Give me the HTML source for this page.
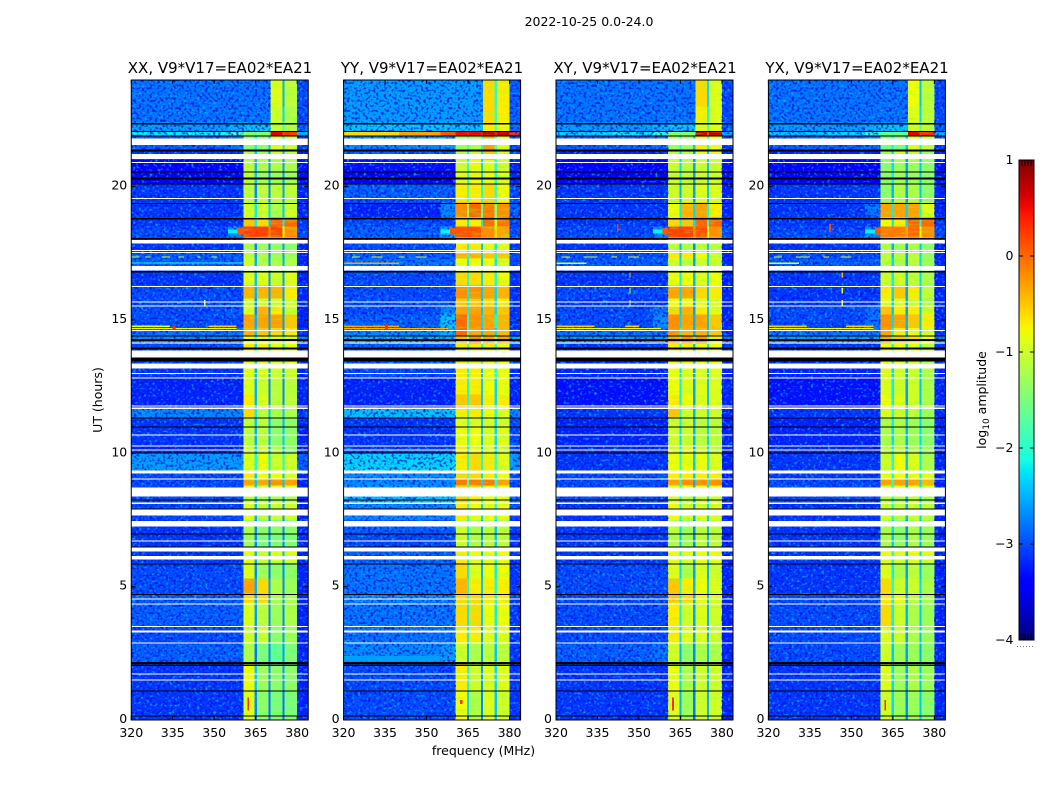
<!DOCTYPE html>
<html lang="en">
<head>
<meta charset="utf-8">
<title>2022-10-25 0.0-24.0</title>
<style>
html,body{margin:0;padding:0;background:#fff}
svg{display:block}
text{font-family:"DejaVu Sans","Liberation Sans",sans-serif;fill:#000}
</style>
</head>
<body>
<svg id="figure" xmlns="http://www.w3.org/2000/svg" width="1050" height="800" viewBox="0 0 1050 800">
  <defs>
    <filter id="grain-light" x="0" y="0" width="100%" height="100%" color-interpolation-filters="sRGB">
      <feTurbulence type="fractalNoise" baseFrequency="0.36 0.42" numOctaves="1" seed="7"/>
      <feColorMatrix type="matrix" values="0 0 0 0 0  0 0 0 0 0.7  0 0 0 0 1  6 0 0 0 -3.3"/>
    </filter>
    <filter id="grain-dark" x="0" y="0" width="100%" height="100%" color-interpolation-filters="sRGB">
      <feTurbulence type="fractalNoise" baseFrequency="0.38 0.4" numOctaves="1" seed="21"/>
      <feColorMatrix type="matrix" values="0 0 0 0 0  0 0 0 0 0.04  0 0 0 0 0.9  6 0 0 0 -3"/>
    </filter>
    <filter id="grain-band" x="0" y="0" width="100%" height="100%" color-interpolation-filters="sRGB">
      <feTurbulence type="fractalNoise" baseFrequency="0.06 0.45" numOctaves="2" seed="12"/>
      <feColorMatrix type="matrix" values="0 0 0 0 0.55  0 0 0 0 1  0 0 0 0 0.2  5 0 0 0 -2.6"/>
    </filter>
    <linearGradient id="jet-gradient" x1="0" y1="1" x2="0" y2="0"></linearGradient>
  </defs>
  <text x="589" y="26" font-size="12.5" text-anchor="middle">2022-10-25 0.0-24.0</text>
  <g id="panel-xx"></g>
  <g id="panel-yy"></g>
  <g id="panel-xy"></g>
  <g id="panel-yx"></g>
  <text x="220" y="73" font-size="15" text-anchor="middle">XX, V9*V17=EA02*EA21</text>
  <text x="432" y="73" font-size="15" text-anchor="middle">YY, V9*V17=EA02*EA21</text>
  <text x="645" y="73" font-size="15" text-anchor="middle">XY, V9*V17=EA02*EA21</text>
  <text x="857" y="73" font-size="15" text-anchor="middle">YX, V9*V17=EA02*EA21</text>
  <text transform="translate(102 400) rotate(-90)" font-size="12.5" text-anchor="middle">UT (hours)</text>
  <text x="483.5" y="755" font-size="12.5" text-anchor="middle">frequency (MHz)</text>
  <g id="colorbar"></g>
  <text transform="translate(986 400) rotate(-90)" font-size="12.5" text-anchor="middle">log<tspan dy="3" font-size="9">10</tspan><tspan dy="-3"> amplitude</tspan></text>
</svg>
<script>
/* Chart data. Levels are log10 amplitude in tenths (-30 means -3.0). */
const rowEdges=[0,1.1,2.1,2.9,3.5,4.4,4.75,5.3,5.9,6.3,7,7.5,8.1,8.4,8.8,9.05,9.35,10,10.3,11,11.35,11.7,12.2,12.8,13.4,14.1,14.4,14.7,15.2,15.5,15.8,16.3,16.8,17.3,17.5,17.9,18.1,18.5,18.85,19.4,20.1,20.6,21,21.4,21.88,22.07,22.4,23,24];
const freqEdges=[320,340,355,360.5,364.6,365.4,369.6,370.4,374.6,375.4,380,384];
const xTickValues=[320,335,350,365,380];
const yTickValues=[0,5,10,15,20];
const colorbarTicks=[1,0,-1,-2,-3,-4];
const colorbarTickLabels=["1","0","\u22121","\u22122","\u22123","\u22124"];
const whiteBands=[[1.48,1.52],[1.71,1.75],[2.87,2.9],[3.28,3.36],[3.51,3.53],[4.35,4.37],[4.52,4.55],[6.02,6.15],[6.31,6.46],[6.7,6.74],[7.26,7.46],[7.67,7.9],[8.1,8.16],[8.39,8.72],[9.03,9.06],[9.25,9.36],[10.1,10.14],[10.26,10.29],[10.67,10.7],[11.66,11.71],[11.76,11.8],[12.81,12.85],[12.97,13.01],[13.19,13.37],[13.6,13.85],[14.12,14.15],[14.59,14.62],[15.5,15.54],[15.66,15.69],[16.23,16.27],[16.86,17.03],[17.52,17.55],[17.61,17.63],[17.86,18],[19.53,19.57],[20.89,20.93],[21.03,21.22],[21.56,21.81]];
const blackBands=[[0.14,0.17],[1.07,1.1],[2.04,2.07],[2.09,2.18],[4.71,4.73],[5.85,5.87],[6.47,6.51],[6.97,7],[7.91,7.94],[8.24,8.27],[9.99,10.04],[10.98,11.01],[11.31,11.34],[13.45,13.59],[13.9,13.97],[14.21,14.28],[14.38,14.42],[16.78,16.83],[18.02,18.08],[18.77,18.82],[19.35,19.39],[20.08,20.12],[20.27,20.35],[20.53,20.57],[21.32,21.4],[21.88,21.92],[22.05,22.09],[22.34,22.38]];

const xxLevels=[
[-31,-31,-31,-9,-27,-14,-28,-15,-28,-15,-32],
[-31,-31,-31,-8,-24,-13,-27,-14,-26,-14,-32],
[-29,-29,-29,-12,-28,-15,-27,-17,-26,-15,-32],
[-30,-30,-30,-10,-27,-10,-27,-14,-26,-13,-32],
[-29,-29,-29,-9,-26,-11,-27,-13,-27,-12,-32],
[-29,-29,-29,-6,-25,-6,-26,-12,-26,-12,-32],
[-30,-30,-30,-3,-25,-6,-26,-12,-27,-13,-32],
[-30,-30,-30,-9,-27,-13,-28,-14,-27,-14,-32],
[-31,-31,-31,-8,-25,-10,-26,-9,-25,-9,-32],
[-31,-31,-31,-13,-27,-15,-27,-15,-27,-15,-32],
[-31,-31,-31,-12,-27,-14,-27,-14,-27,-14,-32],
[-30,-30,-30,-9,-25,-11,-26,-10,-26,-10,-32],
[-30,-30,-30,-11,-25,-12,-26,-12,-25,-12,-32],
[-30,-30,-30,-9,-24,-9,-26,-9,-25,-9,-32],
[-30,-30,-30,-3,-24,-3,-26,-2,-24,-3,-32],
[-30,-30,-30,-7,-24,-8,-25,-8,-24,-9,-32],
[-26,-26,-26,-9,-21,-8,-22,-10,-21,-10,-29],
[-32,-32,-32,-10,-24,-10,-26,-12,-25,-14,-32],
[-31,-31,-31,-11,-25,-11,-25,-14,-24,-14,-32],
[-31,-31,-31,-11,-24,-11,-25,-14,-25,-14,-32],
[-27,-27,-27,-6,-22,-11,-24,-12,-24,-12,-31],
[-32,-32,-32,-7,-25,-9,-27,-11,-27,-11,-32],
[-32,-32,-32,-9,-25,-10,-27,-11,-27,-11,-32],
[-31,-31,-31,-9,-25,-9,-26,-10,-26,-10,-32],
[-30,-30,-30,-7,-23,-7,-24,-8,-22,-8,-31],
[-27,-27,-27,-8,-19,-8,-18,-8,-18,-8,-27],
[-28,-28,-28,-4,-24,-5,-26,-6,-26,-7,-31],
[-30,-30,-30,-3,-25,-3,-26,-3,-26,-5,-32],
[-30,-30,-29,-9,-27,-4,-27,-7,-26,-10,-32],
[-30,-30,-30,-10,-27,-10,-27,-10,-26,-10,-32],
[-30,-30,-30,-4,-25,-4,-26,-4,-26,-7,-32],
[-31,-31,-31,-9,-24,-9,-26,-10,-26,-9,-32],
[-29,-29,-29,-10,-25,-12,-26,-12,-25,-12,-32],
[-29,-29,-29,-11,-26,-12,-27,-13,-26,-13,-32],
[-31,-31,-31,-12,-27,-13,-27,-14,-26,-14,-32],
[-30,-30,-30,-5,-16,-6,-18,-5,-18,-5,-28],
[-30,-30,-27,2,2,2,-2,2,-8,-2,-30],
[-31,-31,-31,-5,-22,-6,-24,0,-22,0,-31],
[-31,-31,-31,-10,-22,-10,-23,-12,-24,-10,-32],
[-31,-31,-31,-11,-27,-11,-27,-11,-26,-11,-32],
[-34,-34,-34,-11,-24,-13,-26,-13,-26,-13,-33],
[-34,-34,-34,-11,-25,-12,-26,-12,-26,-12,-33],
[-31,-31,-31,-12,-24,-13,-26,-10,-25,-11,-32],
[-29,-29,-28,-14,-22,-14,-24,-9,-22,-10,-31],
[-22,-21,-18,-14,-17,-14,-16,6,2,3,-25],
[-26,-26,-25,-24,-24,-24,-24,-11,-18,-12,-29],
[-28,-28,-28,-28,-28,-28,-28,-10,-23,-12,-30],
[-28,-28,-28,-28,-28,-28,-28,-9,-25,-11,-30]
];
const yyLevels=[
[-30,-30,-30,-8,-23,-12,-27,-9,-24,-10,-31],
[-30,-30,-30,-7,-21,-10,-26,-9,-23,-9,-31],
[-27,-27,-26,-10,-25,-12,-26,-11,-24,-11,-31],
[-28,-28,-28,-7,-22,-7,-26,-9,-23,-9,-31],
[-28,-28,-28,-6,-22,-6,-24,-8,-22,-8,-31],
[-27,-27,-27,-6,-20,-6,-24,-7,-21,-7,-31],
[-28,-28,-28,-4,-20,-7,-24,-7,-21,-7,-31],
[-28,-28,-28,-6,-22,-9,-25,-8,-22,-8,-31],
[-29,-29,-29,-7,-20,-8,-24,-8,-21,-8,-31],
[-30,-30,-30,-10,-23,-12,-26,-11,-24,-11,-31],
[-29,-29,-29,-10,-22,-12,-26,-11,-24,-11,-31],
[-27,-27,-27,-7,-19,-8,-23,-8,-20,-8,-30],
[-24,-24,-24,-6,-17,-7,-20,-8,-18,-8,-28],
[-26,-26,-26,-6,-19,-6,-22,-7,-20,-8,-30],
[-27,-27,-27,-1,-19,-1,-23,-1,-20,-3,-30],
[-27,-27,-27,-6,-19,-6,-23,-7,-21,-8,-30],
[-23,-23,-23,-7,-20,-6,-21,-7,-19,-9,-26],
[-31,-31,-31,-7,-22,-8,-24,-9,-23,-10,-30],
[-31,-31,-31,-8,-21,-8,-24,-9,-23,-9,-30],
[-31,-31,-31,-9,-21,-9,-24,-9,-23,-10,-30],
[-24,-24,-24,-7,-19,-7,-23,-8,-21,-9,-27],
[-32,-32,-32,-5,-21,-5,-24,-7,-23,-7,-32],
[-32,-32,-32,-7,-21,-7,-24,-8,-23,-8,-32],
[-30,-30,-30,-7,-21,-7,-24,-8,-21,-8,-31],
[-29,-29,-29,-7,-19,-7,-21,-7,-19,-8,-30],
[-25,-25,-25,-4,-14,-1,-14,-3,-13,-3,-25],
[-27,-27,-25,0,-19,-3,-24,-3,-23,-4,-30],
[-29,-29,-24,0,-20,-2,-23,-3,-21,-4,-31],
[-30,-30,-27,-3,-22,-3,-24,-4,-23,-5,-31],
[-30,-30,-30,-5,-22,-5,-24,-6,-23,-7,-31],
[-30,-30,-30,-2,-22,-2,-24,-3,-23,-4,-31],
[-30,-30,-30,-6,-20,-6,-23,-7,-21,-8,-31],
[-28,-28,-28,-8,-22,-8,-24,-8,-22,-9,-30],
[-29,-29,-29,-4,-20,-4,-23,-5,-21,-5,-30],
[-30,-30,-30,-7,-21,-7,-24,-9,-22,-9,-31],
[-29,-29,-29,-5,-17,-5,-18,-4,-17,-4,-28],
[-29,-29,-25,1,1,1,-2,-2,-6,-3,-30],
[-30,-30,-30,-7,-22,-7,-22,0,-10,-1,-30],
[-32,-32,-27,-2,-12,0,-16,-1,-14,-2,-29],
[-29,-29,-29,-7,-18,-7,-21,-6,-19,-8,-30],
[-34,-34,-34,-9,-20,-8,-23,-8,-21,-9,-32],
[-33,-33,-33,-10,-20,-8,-23,-9,-21,-10,-32],
[-29,-29,-29,-11,-22,-10,-23,-5,-19,-9,-30],
[-27,-27,-26,-13,-18,-12,-21,-3,-18,-9,-29],
[-6,-3,1,5,4,5,4,7,4,7,3],
[-24,-24,-24,-24,-24,-24,-24,-7,-16,-8,-28],
[-26,-26,-26,-26,-26,-26,-26,-6,-19,-7,-29],
[-26,-26,-26,-26,-26,-26,-26,-6,-20,-7,-29]
];
const xyLevels=[
[-31,-31,-31,-9,-25,-13,-28,-10,-25,-10,-32],
[-31,-31,-31,-8,-23,-12,-27,-10,-25,-10,-32],
[-29,-29,-28,-10,-25,-14,-27,-12,-25,-12,-32],
[-30,-30,-30,-7,-23,-9,-26,-9,-25,-10,-32],
[-30,-30,-30,-7,-22,-10,-26,-9,-25,-10,-32],
[-30,-30,-30,-5,-22,-6,-25,-8,-24,-9,-32],
[-30,-30,-30,-5,-21,-7,-25,-8,-24,-9,-32],
[-30,-30,-30,-9,-23,-12,-26,-9,-25,-10,-32],
[-31,-31,-31,-8,-21,-9,-25,-8,-23,-8,-32],
[-31,-31,-31,-12,-24,-13,-27,-11,-25,-11,-32],
[-31,-31,-31,-11,-23,-13,-27,-11,-25,-11,-32],
[-31,-31,-31,-8,-21,-10,-25,-9,-23,-9,-32],
[-30,-30,-30,-10,-21,-11,-25,-10,-23,-10,-32],
[-30,-30,-30,-8,-21,-8,-25,-8,-23,-8,-32],
[-30,-30,-30,-3,-21,-2,-25,-2,-22,-2,-32],
[-30,-30,-30,-7,-21,-7,-24,-7,-22,-7,-32],
[-31,-31,-31,-8,-21,-8,-24,-8,-22,-9,-32],
[-32,-32,-32,-9,-22,-9,-25,-10,-23,-11,-32],
[-32,-32,-32,-10,-23,-10,-25,-11,-23,-11,-32],
[-32,-32,-32,-10,-22,-10,-25,-11,-23,-11,-32],
[-31,-31,-31,-5,-21,-10,-25,-10,-23,-10,-32],
[-33,-33,-33,-7,-22,-8,-26,-9,-24,-9,-32],
[-33,-33,-33,-8,-22,-9,-26,-9,-24,-9,-32],
[-32,-32,-32,-8,-23,-9,-26,-9,-24,-9,-32],
[-31,-31,-31,-7,-21,-7,-24,-8,-22,-8,-31],
[-26,-26,-26,-3,-17,-2,-18,-2,-17,-7,-27],
[-28,-28,-28,-2,-21,-4,-25,-4,-24,-5,-31],
[-30,-30,-27,-2,-23,-3,-25,-3,-24,-5,-32],
[-30,-30,-28,-6,-24,-4,-26,-7,-24,-9,-32],
[-31,-31,-31,-8,-24,-8,-26,-9,-24,-9,-32],
[-30,-30,-30,-3,-23,-3,-26,-6,-24,-7,-32],
[-31,-31,-31,-8,-22,-8,-25,-9,-23,-8,-32],
[-29,-29,-29,-10,-23,-11,-26,-10,-23,-10,-32],
[-30,-30,-30,-7,-24,-7,-26,-8,-23,-10,-32],
[-31,-31,-31,-11,-25,-12,-27,-11,-24,-11,-32],
[-30,-30,-30,-5,-15,-5,-17,-4,-17,-4,-28],
[-30,-30,-27,2,2,2,-2,1,-8,-2,-30],
[-31,-31,-31,-6,-22,-5,-23,0,-21,0,-31],
[-31,-31,-31,-8,-22,-4,-23,-3,-21,-7,-32],
[-31,-31,-31,-10,-25,-10,-26,-9,-24,-9,-32],
[-34,-34,-34,-10,-22,-11,-26,-10,-24,-10,-33],
[-34,-34,-34,-10,-23,-11,-26,-10,-24,-10,-33],
[-32,-32,-32,-11,-23,-12,-26,-8,-24,-9,-32],
[-29,-29,-28,-13,-21,-13,-24,-7,-21,-8,-31],
[-23,-22,-19,-14,-17,-14,-16,7,2,7,-25],
[-26,-26,-25,-24,-24,-24,-24,-9,-17,-9,-29],
[-28,-28,-28,-28,-28,-28,-28,-7,-21,-9,-30],
[-28,-28,-28,-28,-28,-28,-28,-6,-23,-9,-30]
];
const yxLevels=[
[-31,-31,-31,-10,-23,-13,-27,-13,-24,-14,-32],
[-31,-31,-31,-9,-23,-13,-26,-12,-24,-13,-32],
[-30,-30,-30,-10,-24,-13,-26,-13,-25,-14,-32],
[-30,-30,-30,-9,-23,-10,-26,-12,-24,-13,-32],
[-30,-30,-30,-6,-22,-10,-25,-12,-24,-13,-32],
[-30,-30,-30,-7,-22,-8,-25,-11,-23,-12,-32],
[-31,-31,-31,-6,-21,-10,-25,-10,-23,-12,-32],
[-31,-31,-31,-9,-22,-12,-26,-11,-24,-13,-32],
[-31,-31,-31,-8,-21,-9,-25,-8,-23,-9,-32],
[-31,-31,-31,-12,-24,-14,-27,-12,-25,-13,-32],
[-31,-31,-31,-12,-23,-14,-27,-12,-25,-13,-32],
[-31,-31,-31,-10,-21,-11,-25,-10,-23,-11,-32],
[-30,-30,-30,-11,-21,-12,-25,-11,-23,-12,-32],
[-30,-30,-30,-9,-21,-9,-25,-9,-23,-10,-32],
[-30,-30,-30,-3,-21,-3,-25,-3,-23,-4,-32],
[-31,-31,-31,-8,-21,-8,-24,-8,-22,-9,-32],
[-31,-31,-31,-10,-21,-8,-24,-9,-22,-12,-32],
[-32,-32,-32,-11,-22,-11,-25,-12,-23,-13,-32],
[-32,-32,-32,-12,-23,-12,-25,-13,-23,-14,-32],
[-32,-32,-32,-12,-22,-12,-25,-13,-23,-14,-32],
[-31,-31,-31,-9,-21,-10,-24,-11,-23,-13,-32],
[-33,-33,-33,-8,-22,-9,-26,-10,-24,-12,-32],
[-33,-33,-33,-9,-22,-10,-26,-10,-24,-12,-32],
[-32,-32,-32,-9,-23,-10,-26,-10,-24,-12,-32],
[-31,-31,-31,-8,-21,-8,-24,-9,-22,-11,-31],
[-26,-26,-26,-3,-17,-5,-18,-6,-17,-8,-27],
[-28,-28,-28,-3,-21,-7,-25,-8,-24,-9,-31],
[-30,-30,-28,-2,-23,-3,-25,-5,-24,-7,-32],
[-30,-30,-28,-5,-24,-7,-26,-7,-24,-10,-32],
[-31,-31,-31,-9,-24,-9,-26,-10,-24,-12,-32],
[-31,-31,-31,-7,-23,-5,-26,-7,-24,-11,-32],
[-31,-31,-31,-10,-22,-10,-25,-11,-23,-12,-32],
[-29,-29,-29,-11,-23,-12,-26,-11,-23,-13,-32],
[-30,-30,-30,-11,-24,-11,-26,-11,-23,-13,-32],
[-31,-31,-31,-12,-25,-13,-27,-12,-24,-14,-32],
[-30,-30,-30,-6,-15,-6,-17,-5,-17,-5,-28],
[-30,-30,-27,-1,-1,-1,-3,0,-8,-2,-30],
[-31,-31,-31,-8,-22,-7,-23,0,-21,0,-31],
[-31,-31,-28,-3,-22,-3,-23,-3,-21,-9,-32],
[-31,-31,-31,-14,-25,-12,-26,-12,-24,-14,-32],
[-34,-34,-34,-14,-22,-13,-26,-13,-24,-14,-33],
[-34,-34,-34,-14,-23,-13,-26,-13,-24,-14,-33],
[-32,-32,-32,-13,-23,-10,-26,-11,-24,-13,-32],
[-29,-29,-28,-15,-21,-15,-24,-9,-21,-11,-31],
[-24,-23,-19,-16,-18,-16,-17,6,2,4,-25],
[-26,-26,-25,-24,-24,-24,-24,-10,-18,-11,-29],
[-28,-28,-28,-28,-28,-28,-28,-9,-23,-11,-30],
[-28,-28,-28,-28,-28,-28,-28,-8,-24,-11,-30]
];
/* Narrow features: start MHz, end MHz, start hour, end hour, level. */
const xxStreaks=[[320,334,14.74,14.79,-8],[348,358,14.74,14.79,-5],[320,358,14.66,14.7,-9],[335,336,14.64,14.8,3],[320,323,17.35,17.39,-10],[325,327,17.35,17.39,-6],[331,334,17.35,17.39,-8],[337,339,17.35,17.39,-10],[344,345,17.35,17.39,-10],[349,351,17.35,17.39,-10],[320,360,17.11,17.15,-20],[358.5,360.5,18.2,18.45,1],[355,358.5,18.25,18.4,-22],[362,362.6,0.36,0.85,3],[346.3,346.9,15.5,15.75,-8]];
const yyStreaks=[[320,340,21.92,22.05,-6],[340,355,21.92,22.05,-3],[355,360.5,21.92,22.05,1],[320,358,14.66,14.7,-4],[320,340,14.74,14.8,-3],[335,336,14.6,14.85,3],[320,340,17.1,17.15,-3],[323,326,17.35,17.39,-9],[330,334,17.35,17.39,-7],[340,342,17.35,17.39,-9],[346,350,17.35,17.39,-9],[320,355,2.2,2.4,-26],[358.5,360.5,18.2,18.45,1],[355,358.5,18.25,18.4,-22],[362,363,0.6,0.75,3]];
const xyStreaks=[[320,334,14.74,14.79,-5],[345,350,14.74,14.79,-5],[320,358,14.66,14.7,-9],[322,325,17.35,17.39,-9],[330,335,17.35,17.39,-10],[340,342,17.35,17.39,-8],[346,350,17.35,17.39,-9],[320,331,17.1,17.15,-10],[358.5,360.5,18.2,18.45,1],[355,358.5,18.25,18.4,-22],[362,362.6,0.36,0.85,3],[342,342.6,18.3,18.6,2],[346.5,347,15.55,15.75,-8],[346.5,347,16,16.2,-8],[346.5,347,16.6,16.8,-4]];
const yxStreaks=[[320,334,14.74,14.79,-5],[348,358,14.74,14.79,-5],[320,358,14.66,14.7,-9],[322,325,17.35,17.39,-9],[330,335,17.35,17.39,-10],[340,342,17.35,17.39,-8],[346,350,17.35,17.39,-9],[320,331,17.1,17.15,-10],[358.5,360.5,18.2,18.45,1],[355,358.5,18.25,18.4,-22],[362,362.6,0.36,0.75,3],[342,342.6,18.3,18.6,2],[346.5,347,15.55,15.75,-8],[346.5,347,16,16.2,-8],[346.5,347,16.6,16.8,-4]];

/* Layout and axis functions */
const SVG_NS="http://www.w3.org/2000/svg";
const plotTop=80,plotBottom=720,plotWidth=177,freqMin=320,freqMax=384,hourMax=24;
const cbLeft=1019,cbRight=1034,cbTop=160,cbBottom=640;
const lowerBandTopHour=21.88;
function yScale(hour){return plotBottom-(hour/hourMax)*(plotBottom-plotTop);}
function xScale(left,mhz){return left+((mhz-freqMin)/(freqMax-freqMin))*plotWidth;}
function cbScale(value){return cbBottom-((value+4)/5)*(cbBottom-cbTop);}
function lerpStops(stops,t){
  for(let i=1;i<stops.length;i++){
    if(t<=stops[i][0]){
      const a=stops[i-1],b=stops[i];
      return a[1]+(b[1]-a[1])*(t-a[0])/(b[0]-a[0]);
    }
  }
  return stops[stops.length-1][1];
}
const jetRed=[[0,0],[0.35,0],[0.66,1],[0.89,1],[1,0.5]];
const jetGreen=[[0,0],[0.125,0],[0.375,1],[0.64,1],[0.91,0],[1,0]];
const jetBlue=[[0,0.5],[0.11,1],[0.34,1],[0.65,0],[1,0]];
function jet(value){
  const t=Math.max(0,Math.min(1,(value+4)/5));
  const c=[jetRed,jetGreen,jetBlue].map(s=>Math.round(lerpStops(s,t)*255));
  return "rgb("+c[0]+","+c[1]+","+c[2]+")";
}
function make(tag,attrs,parent){
  const el=document.createElementNS(SVG_NS,tag);
  for(const k in attrs){el.setAttribute(k,attrs[k]);}
  parent.appendChild(el);
  return el;
}
function drawTicks(group,left){
  const right=left+plotWidth;
  xTickValues.forEach(function(v){
    const x=xScale(left,v);
    const tb=make("line",{x1:x,x2:x,y1:plotBottom,y2:plotBottom-4,stroke:"#000","stroke-width":1},group);
    
    
    const tt=make("line",{x1:x,x2:x,y1:plotTop,y2:plotTop+4,stroke:"#000","stroke-width":1},group);
    
    
    const lab=make("text",{x:x,y:737,"font-size":12.5,"text-anchor":"middle"},group);
    lab.textContent=String(v);
    
    
  });
  yTickValues.forEach(function(v){
    const y=yScale(v);
    const tl=make("line",{x1:left,x2:left+4,y1:y,y2:y,stroke:"#000","stroke-width":1},group);
    
    
    const tr=make("line",{x1:right,x2:right-4,y1:y,y2:y,stroke:"#000","stroke-width":1},group);
    
    
    const lab=make("text",{x:left-4,y:y+3,"font-size":12.5,"text-anchor":"end"},group);
    lab.textContent=String(v);
    
    
  });
}
function drawBand(group,left,band,color,name){
  const y1=yScale(band[1]),y2=yScale(band[0]);
  const r=make("rect",{x:left,y:y1,width:plotWidth,height:Math.max(1,y2-y1),fill:color,"shape-rendering":"crispEdges"},group);
  
  
}
function drawPanel(id,left,levels,streaks){
  const group=document.getElementById(id);
  levels.forEach(function(row,ri){
    row.forEach(function(level,ci){
      const x1=xScale(left,freqEdges[ci]),x2=xScale(left,freqEdges[ci+1]);
      const y1=yScale(rowEdges[ri+1]),y2=yScale(rowEdges[ri]);
      const cell=make("rect",{x:x1,y:y1,width:x2-x1,height:y2-y1,fill:jet(level/10),"shape-rendering":"crispEdges"},group);
      
      
    });
  });
  [[freqEdges[0],freqEdges[3]],[freqEdges[10],freqEdges[11]]].forEach(function(span){
    const x1=xScale(left,span[0]),w=xScale(left,span[1])-x1;
    const light=make("rect",{x:x1,y:plotTop,width:w,height:plotBottom-plotTop,filter:"url(#grain-light)",opacity:0.8},group);
    
    
    const dark=make("rect",{x:x1,y:plotTop,width:w,height:plotBottom-plotTop,filter:"url(#grain-dark)",opacity:0.75},group);
    
    
  });
  /* the two lower-frequency bands are absent above the red row, so their
     texture and the blue field's grain swap over at that hour */
  const lowerTopY=yScale(lowerBandTopHour);
  [[freqEdges[3],freqEdges[4]],[freqEdges[5],freqEdges[6]]].forEach(function(span){
    const x1=xScale(left,span[0]),w=xScale(left,span[1])-x1;
    const stripes=make("rect",{x:x1,y:lowerTopY,width:w,height:plotBottom-lowerTopY,filter:"url(#grain-band)",opacity:0.3},group);
    
    
  });
  [[freqEdges[7],freqEdges[8]],[freqEdges[9],freqEdges[10]]].forEach(function(span){
    const x1=xScale(left,span[0]),w=xScale(left,span[1])-x1;
    const stripes=make("rect",{x:x1,y:plotTop,width:w,height:plotBottom-plotTop,filter:"url(#grain-band)",opacity:0.3},group);
    
    
  });
  const x3=xScale(left,freqEdges[3]),topW=xScale(left,freqEdges[7])-x3,topH=yScale(22.07)-plotTop;
  const topLight=make("rect",{x:x3,y:plotTop,width:topW,height:topH,filter:"url(#grain-light)",opacity:0.8},group);
  
  
  const topDark=make("rect",{x:x3,y:plotTop,width:topW,height:topH,filter:"url(#grain-dark)",opacity:0.75},group);
  
  
  streaks.forEach(function(s){
    const x1=xScale(left,s[0]),x2=xScale(left,s[1]),y1=yScale(s[3]),y2=yScale(s[2]);
    const r=make("rect",{x:x1,y:y1,width:Math.max(1,x2-x1),height:Math.max(1,y2-y1),fill:jet(s[4]/10),"shape-rendering":"crispEdges"},group);
    
    
  });
  whiteBands.forEach(function(b){drawBand(group,left,b,"#fff","flagged-band");});
  blackBands.forEach(function(b){drawBand(group,left,b,"#000","missing-band");});
  const frame=make("rect",{x:left,y:plotTop,width:plotWidth,height:plotBottom-plotTop,fill:"none",stroke:"#000","stroke-width":1},group);
  
  
  drawTicks(group,left);
}
drawPanel("panel-xx",131.25,xxLevels,xxStreaks);
drawPanel("panel-yy",343.6,yyLevels,yyStreaks);
drawPanel("panel-xy",556,xyLevels,xyStreaks);
drawPanel("panel-yx",768.4,yxLevels,yxStreaks);

/* Colorbar */
(function(){
  const grad=document.getElementById("jet-gradient");
  for(let i=0;i<=40;i++){
    make("stop",{offset:(i/40),"stop-color":jet(-4+5*i/40)},grad);
  }
  const group=document.getElementById("colorbar");
  const bar=make("rect",{x:cbLeft,y:cbTop,width:cbRight-cbLeft,height:cbBottom-cbTop,fill:"url(#jet-gradient)",stroke:"#000","stroke-width":1},group);
  
  
  colorbarTicks.forEach(function(v,i){
    const y=cbScale(v);
    const tl=make("line",{x1:cbLeft,x2:cbLeft+4,y1:y,y2:y,stroke:"#000","stroke-width":1},group);
    
    
    const tr=make("line",{x1:cbRight,x2:cbRight-4,y1:y,y2:y,stroke:"#000","stroke-width":1},group);
    
    
    const lab=make("text",{x:1013.5,y:y+4,"font-size":12.5,"text-anchor":"end"},group);
    lab.textContent=colorbarTickLabels[i];
    
    
  });
  for(let i=1;i<=4;i++){
    const x=cbLeft+i*3;
    const tt=make("line",{x1:x,x2:x,y1:cbTop,y2:cbTop+6,stroke:"#000","stroke-width":1},group);
    
    
    const tb=make("line",{x1:x,x2:x,y1:cbBottom,y2:cbBottom-6,stroke:"#000","stroke-width":1},group);
    
    
  }
  const dots=make("line",{x1:1017,x2:1035,y1:646.5,y2:646.5,stroke:"#777","stroke-width":1,"stroke-dasharray":"1 2"},group);
  
  
})();
</script>
</body>
</html>
